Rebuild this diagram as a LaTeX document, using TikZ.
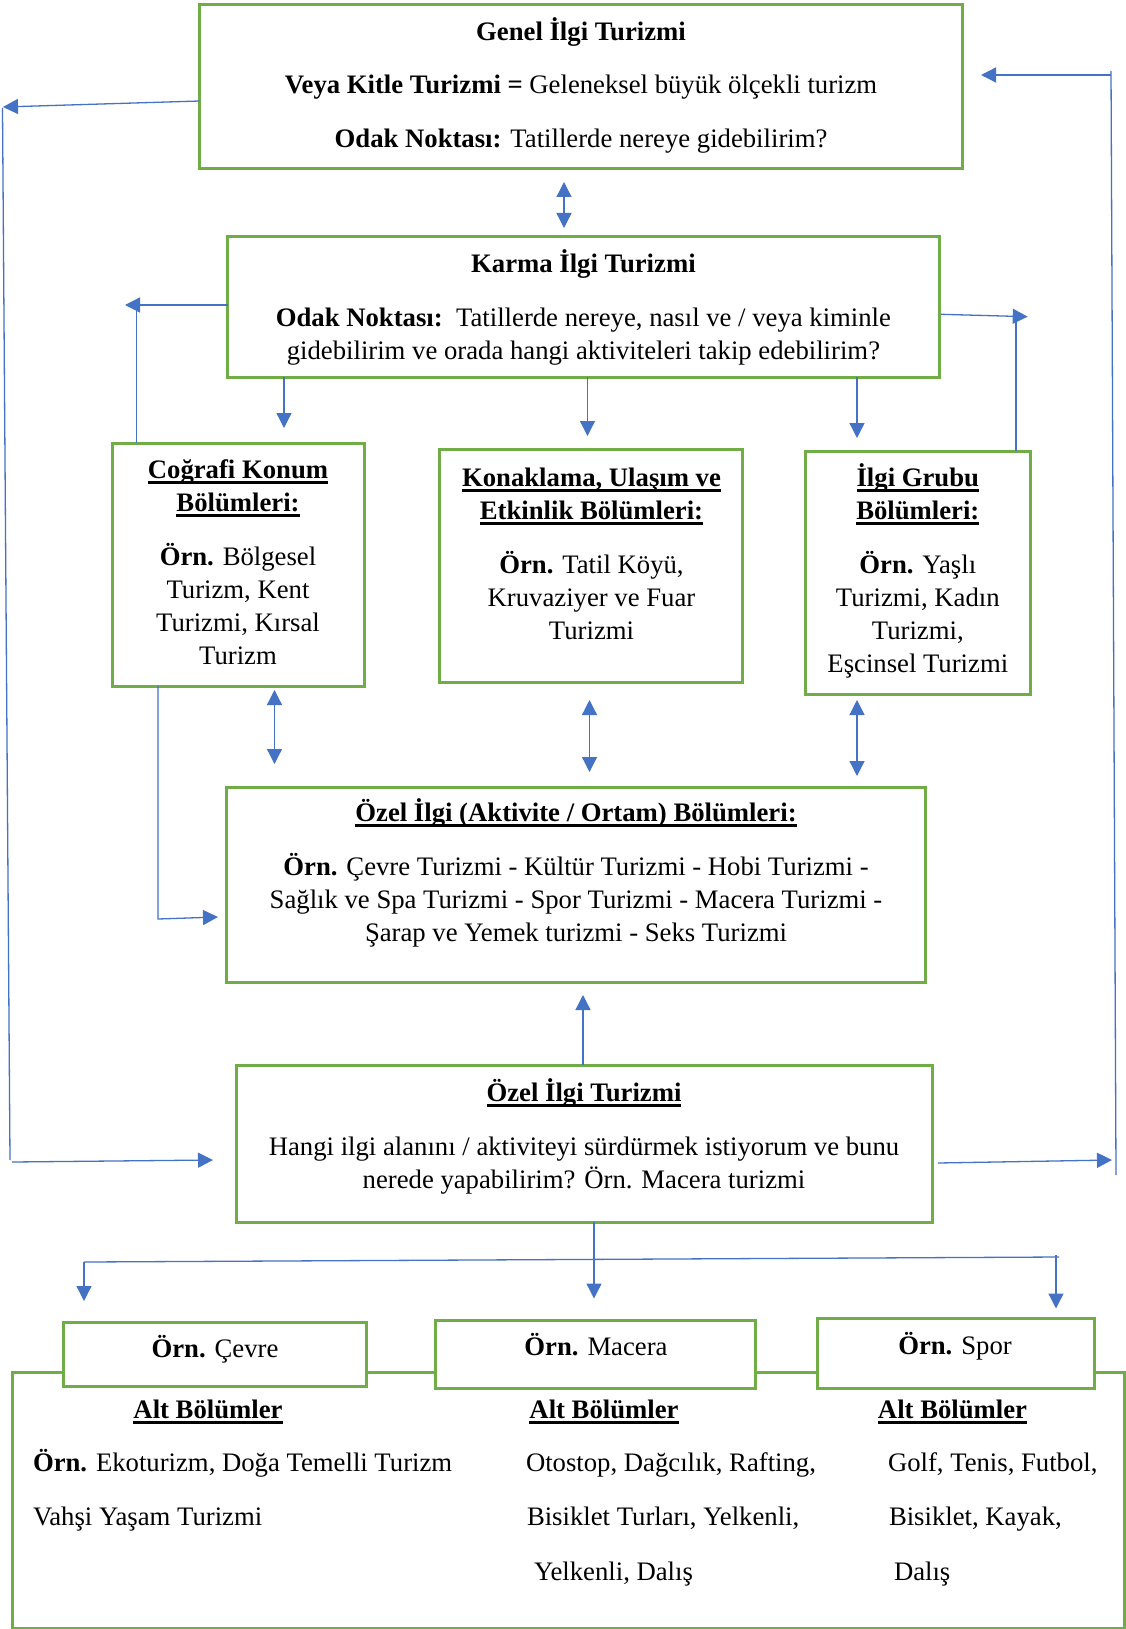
\documentclass[tikz,border=0pt]{standalone}
\usepackage{fontspec}
\setmainfont{Liberation Serif}
\usetikzlibrary{arrows.meta,calc}
\definecolor{boxgreen}{HTML}{70AD47}
\definecolor{linkblue}{HTML}{4472C4}
\newsavebox\ulbox
\newcommand\myul[1]{\sbox\ulbox{#1}\rlap{\rule[-5.5pt]{\wd\ulbox}{2.6pt}}\usebox\ulbox}
\newcommand\mylines[1]{\begin{tabular}[t]{@{}c@{}}#1\end{tabular}}
\begin{document}
\begin{tikzpicture}[x=1pt,y=-1pt,
  box/.style={draw=boxgreen,line width=3pt,fill=white,inner sep=0pt,outer sep=0pt},
  txt/.style={inner sep=0pt,outer sep=0pt,anchor=base,font=\fontsize{26.7}{33}\selectfont},
  txtl/.style={txt,anchor=base west},
  link/.style={draw=linkblue,line width=1.3pt},
  arr/.style={link,-{Triangle[length=15pt,width=15pt]}},
  darr/.style={link,{Triangle[length=15pt,width=15pt]}-{Triangle[length=15pt,width=15pt]}}]
\useasboundingbox (0,0) rectangle (1125,1629);
\fill[white] (0,0) rectangle (1125,1629);

% boxes
\node[box,minimum width=763pt,minimum height=164pt] (genel) at (581,87) {};
\node[box,minimum width=711.3pt,minimum height=140pt] (karma) at (583.4,307) {};
\node[box,minimum width=252pt,minimum height=243pt] (cograf) at (238,564.5) {};
\node[box,minimum width=302.8pt,minimum height=233pt] (konak) at (591.2,565.5) {};
\node[box,minimum width=225pt,minimum height=243pt] (ilgi) at (917.5,572.5) {};
\node[box,minimum width=699.5pt,minimum height=195pt] (aktiv) at (575.8,884.5) {};
\node[box,minimum width=696.7pt,minimum height=157pt] (ozel) at (584.4,1143.5) {};
\node[box,minimum width=1111.7pt,minimum height=256pt] (big) at (568.2,1500) {};
\node[box,minimum width=302.7pt,minimum height=64pt] (cevre) at (214.7,1354) {};
\node[box,minimum width=320pt,minimum height=68pt] (macera) at (595.5,1354) {};
\node[box,minimum width=277pt,minimum height=70pt] (spor) at (955.5,1353) {};

% texts
\node[txt] (genel-t1) at (581,41) {\bfseries Genel İlgi Turizmi};
\node[txt] (genel-t2) at (581,94) {\textbf{Veya Kitle Turizmi =} Geleneksel büyük ölçekli turizm};
\node[txt] (genel-t3) at (581,148) {\textbf{Odak Noktası:} Tatillerde nereye gidebilirim?};

\node[txt] (karma-t1) at (583.4,272.5) {\bfseries Karma İlgi Turizmi};
\node[txt] (karma-t2) at (583.4,326) {\mylines{\textbf{Odak Noktası:}\ \ Tatillerde nereye, nasıl ve / veya kiminle\\gidebilirim ve orada hangi aktiviteleri takip edebilirim?}};

\node[txt] (cograf-t) at (238,478.5) {\mylines{\myul{\bfseries Coğrafi Konum}\\\myul{\bfseries Bölümleri:}\\[21pt]\textbf{Örn.} Bölgesel\\Turizm, Kent\\Turizmi, Kırsal\\Turizm}};
\node[txt] (konak-t) at (591.5,486) {\mylines{\myul{\bfseries Konaklama, Ulaşım ve}\\\myul{\bfseries Etkinlik Bölümleri:}\\[21pt]\textbf{Örn.} Tatil Köyü,\\Kruvaziyer ve Fuar\\Turizmi}};
\node[txt] (ilgi-t) at (917.8,486) {\mylines{\myul{\bfseries İlgi Grubu}\\\myul{\bfseries Bölümleri:}\\[21pt]\textbf{Örn.} Yaşlı\\Turizmi, Kadın\\Turizmi,\\Eşcinsel Turizmi}};

\node[txt] (aktiv-t) at (576,821) {\mylines{\myul{\bfseries Özel İlgi (Aktivite / Ortam) Bölümleri:}\\[21pt]\textbf{Örn.} Çevre Turizmi - Kültür Turizmi - Hobi Turizmi -\\Sağlık ve Spa Turizmi - Spor Turizmi - Macera Turizmi -\\Şarap ve Yemek turizmi - Seks Turizmi}};

\node[txt] (ozel-t) at (584,1101) {\mylines{\myul{\bfseries Özel İlgi Turizmi}\\[21.5pt]Hangi ilgi alanını / aktiviteyi sürdürmek istiyorum ve bunu\\nerede yapabilirim? Örn. Macera turizmi}};

\node[txt] (cevre-t) at (215,1357) {\textbf{Örn.} Çevre};
\node[txt] (macera-t) at (596,1355) {\textbf{Örn.} Macera};
\node[txt] (spor-t) at (955,1354) {\textbf{Örn.} Spor};

\node[txt] (alt1) at (208,1418) {\myul{\bfseries Alt Bölümler}};
\node[txt] (alt2) at (604,1418) {\myul{\bfseries Alt Bölümler}};
\node[txt] (alt3) at (952.5,1418) {\myul{\bfseries Alt Bölümler}};

\node[txtl] (c1r1) at (33,1471) {\textbf{Örn.} Ekoturizm, Doğa Temelli Turizm};
\node[txtl] (c1r2) at (33,1525) {Vahşi Yaşam Turizmi};
\node[txtl] (c2r1) at (526,1471) {Otostop, Dağcılık, Rafting,};
\node[txtl] (c2r2) at (527,1525) {Bisiklet Turları, Yelkenli,};
\node[txtl] (c2r3) at (534,1580) {Yelkenli, Dalış};
\node[txtl] (c3r1) at (888,1471) {Golf, Tenis, Futbol,};
\node[txtl] (c3r2) at (889,1525) {Bisiklet, Kayak,};
\node[txtl] (c3r3) at (894,1580) {Dalış};

% connectors: left loop
\coordinate (gLtip) at (3,107);
\draw[arr] ([yshift=-14pt]genel.west) -- (gLtip);
\coordinate (lvTop) at (2.5,108);
\coordinate (lvBot) at (10,1160);
\draw[link] (lvTop) -- (lvBot);
\coordinate (lbStart) at (12,1162);
\coordinate (lbTip) at (213,1160);
\draw[arr] (lbStart) -- (lbTip);

% right loop
\coordinate (rTip) at (1112,1160);
\draw[arr] ([xshift=5pt,yshift=-19.5pt]ozel.east) -- (rTip);
\coordinate (rvBot) at (1116,1175);
\coordinate (rvTop) at (1111,71);
\draw[link] (rvBot) -- (rvTop);
\coordinate (rtStart) at (1111,75);
\coordinate (rtTip) at (981,75);
\draw[arr] (rtStart) -- (rtTip);

% genel <-> karma
\coordinate (gk1) at (564,182);
\coordinate (gk2) at (564,228);
\draw[darr] (gk1) -- (gk2);

% karma sides
\coordinate (klTip) at (125,305);
\draw[arr] ([yshift=2pt]karma.west) -- (klTip);
\coordinate (klCorner) at (136.7,306);
\draw[link] (cograf.north -| klCorner) -- (klCorner);
\coordinate (krTip) at (1027.7,316.7);
\draw[arr] ([xshift=2pt,yshift=-7.3pt]karma.east) -- (krTip);
\coordinate (krCorner) at (1016,317);
\draw[link] (ilgi.north -| krCorner) -- (krCorner);

% karma down
\coordinate (kd1) at (284,428);
\draw[arr] (karma.south -| kd1) -- (kd1);
\coordinate (kd2) at (587.5,436);
\draw[arr] (karma.south -| kd2) -- (kd2);
\coordinate (kd3) at (857,438);
\draw[arr] (karma.south -| kd3) -- (kd3);

% double arrows to aktiv
\coordinate (da1a) at (274.5,690);
\coordinate (da1b) at (274.5,764);
\draw[darr] (da1a) -- (da1b);
\coordinate (da2a) at (589.5,700);
\coordinate (da2b) at (589.5,772);
\draw[darr] (da2a) -- (da2b);
\coordinate (da3a) at (857,700);
\coordinate (da3b) at (857,776);
\draw[darr] (da3a) -- (da3b);

% cograf -> aktiv
\coordinate (caCorner) at (158,919);
\coordinate (caTip) at (218,917);
\draw[arr] (cograf.south -| caCorner) -- (caCorner) -- (caTip);

% ozel up
\coordinate (ouTip) at (583,995);
\draw[arr] (ozel.north -| ouTip) -- (ouTip);

% ozel down and branches
\coordinate (odTip) at (594,1298.5);
\draw[arr] (ozel.south -| odTip) -- (odTip);
\coordinate (hL) at (84,1262);
\coordinate (hR) at (1059,1257);
\draw[link] (hL) -- (hR);
\coordinate (lTip) at (84,1301);
\draw[arr] (hL) -- (lTip);
\coordinate (rdTop) at (1056,1255);
\coordinate (rdTip) at (1056,1308.5);
\draw[arr] (rdTop) -- (rdTip);
\end{tikzpicture}
\end{document}
